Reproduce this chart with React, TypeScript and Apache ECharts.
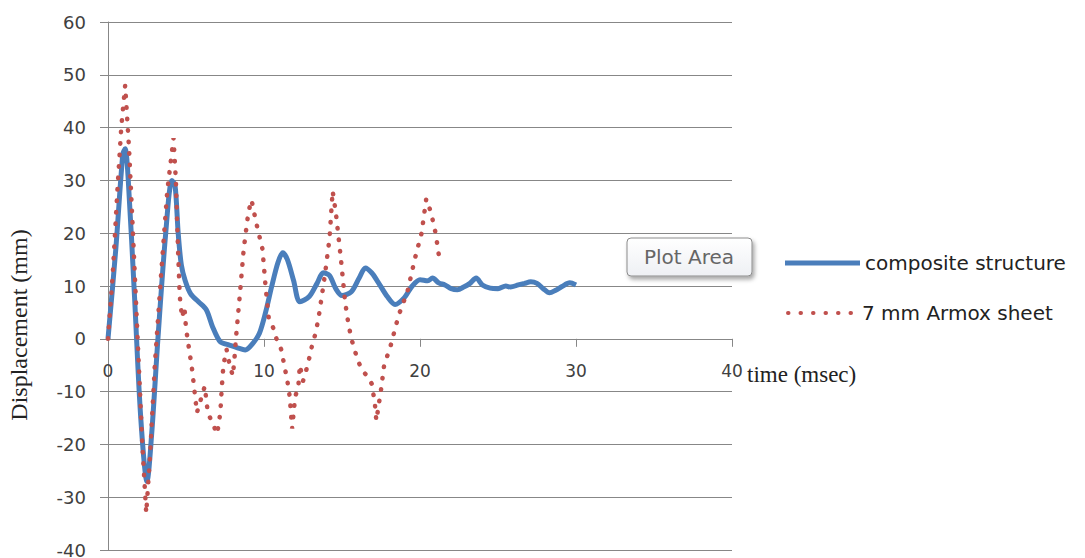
import React, { useEffect, useRef } from "react";
import * as echarts from "echarts";

// composite structure (solid blue)
const compositeTime = [
  0, 0.5, 0.95, 1.1, 1.3, 1.7, 2.1, 2.5, 2.8, 3.2, 3.7, 4.1, 4.3, 4.5, 4.7, 4.95,
  5.3, 5.8, 6.3, 6.7, 7.2, 7.7, 8.3, 8.8, 9.3, 9.7, 10.1, 10.5, 10.9, 11.2, 11.5,
  11.9, 12.3, 12.9, 13.4, 13.8, 14.2, 14.6, 15.0, 15.6, 16.1, 16.5, 16.9, 17.3,
  17.9, 18.4, 19.0, 19.5, 20.0, 20.5, 20.8, 21.2, 21.6, 22.0, 22.4, 22.8, 23.2,
  23.6, 24.0, 24.5, 25.0, 25.5, 25.8, 26.3, 26.7, 27.1, 27.5, 27.9, 28.3, 28.7,
  29.1, 29.6, 30.0,
];
const compositeDisp = [
  0, 17, 35, 36, 30, 8, -15, -27, -18, 0, 20, 30, 29, 20, 14, 11,
  8.5, 7, 5.5, 2.3, -0.6, -1.1, -1.7, -2.1, -0.8, 1, 5, 10, 14.5, 16.3, 15,
  11, 7, 8, 10.5, 12.5, 12, 9.5, 8.2, 8.9, 11.5, 13.4, 12.5, 10.8,
  8, 6.5, 7.8, 10, 11.2, 11, 11.5, 10.6, 10.2, 9.5, 9.3, 9.8, 10.5,
  11.5, 10.2, 9.6, 9.5, 10, 9.8, 10.2, 10.5, 10.8, 10.5, 9.5, 8.7, 9.2,
  9.9, 10.6, 10.2,
];

// 7 mm Armox sheet (dotted red)
const armoxTime = [
  0, 0.3, 0.6, 0.85, 1.1, 1.35, 1.6, 1.9, 2.2, 2.45, 2.7, 3.0, 3.4, 3.8, 4.2,
  4.35, 4.5, 4.6, 4.75, 4.9, 5.0, 5.2, 5.4, 5.55, 5.7, 5.9, 6.2, 6.4, 6.7, 7.0,
  7.2, 7.3, 7.4, 7.6, 7.8, 8.0, 8.1, 8.2, 8.35, 8.5, 8.7, 9.0, 9.2, 9.5, 9.9,
  10.1, 10.3, 10.6, 10.8, 11.1, 11.3, 11.5, 11.65, 11.8, 12.0, 12.2, 12.3, 12.5,
  12.8, 13.1, 13.3, 13.5, 13.7, 13.9, 14.2, 14.4, 14.6, 14.9, 15.2, 15.4, 15.6,
  15.8, 16.0, 16.3, 16.6, 16.9, 17.1, 17.2, 17.5, 17.7, 18.1, 18.5, 18.7, 19.2,
  19.7, 20.1, 20.4, 20.7, 21.0, 21.3,
];
const armoxDisp = [
  0, 12, 28, 40, 48, 36, 20, 0, -20, -33, -22, -5, 12, 28, 38,
  30, 16, 8, 4, 6, 2, -2, -6, -10, -14, -12, -9, -14, -16, -18,
  -14, -9, -5, -2, -5, -7, -4, 0, 5, 10, 17, 24, 26.3, 22, 17,
  10, 4, 2, 0, -2, -5, -8, -11, -17, -11, -9, -5, -8,
  -5, -1, 1, 4, 8, 12, 19, 28, 24, 16, 7, 3, 0,
  -2, -4, -6, -7, -8.5, -12, -15.5, -9.7, -5, -1.5, 3, 5, 9,
  15.5, 20, 26.5, 24, 20, 14,
];

const seriesNames = ["composite structure", "7 mm Armox sheet"];
const xTitle = "time (msec)";
const yTitle = "Displacement (mm)";

const BLUE = "#4A7EBB";
const RED = "#C0504D";
const GRID = "#878787";
const LABEL = "#404040";

const GRID_TOP = 22;
const GRID_BOTTOM_PX = 550;
const Y_MIN = -40;
const Y_MAX = 60;

export default function App() {
  const ref = useRef<HTMLDivElement>(null);
  useEffect(() => {
    if (!ref.current) return;
    const chart = echarts.init(ref.current, null, { renderer: "svg" });
    const blueData = compositeTime.map((t, i) => [t, compositeDisp[i]]);
    const redData = armoxTime.map((t, i) => [t, armoxDisp[i]]);
    // x axis sits on y = 0: move it up from the grid bottom
    const zeroOffset = -((0 - Y_MIN) / (Y_MAX - Y_MIN)) * (GRID_BOTTOM_PX - GRID_TOP);
    chart.setOption({
      animation: false,
      backgroundColor: "#ffffff",
      grid: {
        left: 108,
        right: 353,
        top: GRID_TOP,
        bottom: 558 - GRID_BOTTOM_PX,
        containLabel: false,
        outerBoundsMode: "none",
      },
      xAxis: {
        type: "value",
        min: 0,
        max: 40,
        interval: 10,
        position: "bottom",
        offset: zeroOffset,
        axisLine: { show: true, onZero: false, lineStyle: { color: GRID, width: 1 } },
        axisTick: { show: true, length: 8, lineStyle: { color: GRID } },
        axisLabel: { margin: 24, color: LABEL, fontSize: 17, fontFamily: "DejaVu Sans" },
        splitLine: { show: false },
      },
      yAxis: {
        type: "value",
        min: Y_MIN,
        max: Y_MAX,
        interval: 10,
        axisLine: { show: true, onZero: false, lineStyle: { color: GRID, width: 1 } },
        axisTick: { show: true, length: 8, lineStyle: { color: GRID } },
        axisLabel: { margin: 22, color: LABEL, fontSize: 18, fontFamily: "DejaVu Sans" },
        splitLine: { show: true, lineStyle: { color: GRID, width: 1 } },
      },
      series: [
        {
          name: seriesNames[0],
          type: "line",
          data: blueData,
          symbol: "none",
          smooth: 0.3,
          lineStyle: { color: BLUE, width: 5 },
          z: 2,
        },
        {
          name: seriesNames[1],
          type: "line",
          data: redData,
          symbol: "none",
          lineStyle: { color: RED, width: 4.5, type: [0.5, 11], cap: "round" },
          z: 3,
        },
      ],
      graphic: [
        {
          type: "text",
          x: 19,
          y: 325,
          rotation: Math.PI / 2,
          style: {
            text: yTitle,
            font: '24px "Liberation Serif"',
            fill: "#222",
            align: "center",
            verticalAlign: "middle",
          },
        },
        {
          type: "text",
          x: 747,
          y: 374,
          style: {
            text: xTitle,
            font: '23px "Liberation Serif"',
            fill: "#222",
            align: "left",
            verticalAlign: "middle",
          },
        },
        {
          type: "rect",
          shape: { x: 627, y: 238, width: 125, height: 38, r: 4 },
          style: {
            fill: new echarts.graphic.LinearGradient(0, 0, 0, 1, [
              { offset: 0, color: "#ffffff" },
              { offset: 1, color: "#eef0f4" },
            ]),
            stroke: "#8c8c8c",
            lineWidth: 1,
            shadowBlur: 4,
            shadowOffsetX: 2,
            shadowOffsetY: 3,
            shadowColor: "rgba(0,0,0,0.35)",
          },
          z: 10,
        },
        {
          type: "text",
          x: 689,
          y: 257,
          style: {
            text: "Plot Area",
            font: '20px "DejaVu Sans"',
            fill: "#666666",
            align: "center",
            verticalAlign: "middle",
          },
          z: 11,
        },
        {
          type: "line",
          shape: { x1: 785, y1: 263, x2: 860, y2: 263 },
          style: { stroke: BLUE, lineWidth: 5 },
        },
        {
          type: "text",
          x: 865,
          y: 263,
          style: {
            text: seriesNames[0],
            font: '20px "DejaVu Sans"',
            fill: "#222",
            align: "left",
            verticalAlign: "middle",
          },
        },
        {
          type: "line",
          shape: { x1: 788, y1: 313, x2: 852, y2: 313 },
          style: { stroke: RED, lineWidth: 4, lineDash: [0.5, 12], lineCap: "round" },
        },
        {
          type: "text",
          x: 862,
          y: 313,
          style: {
            text: seriesNames[1],
            font: '20px "DejaVu Sans"',
            fill: "#222",
            align: "left",
            verticalAlign: "middle",
          },
        },
      ],
    });
    return () => chart.dispose();
  }, []);
  return (
    <div
      ref={ref}
      style={{ position: "fixed", left: 0, top: 0, width: 1085, height: 558 }}
    />
  );
}
